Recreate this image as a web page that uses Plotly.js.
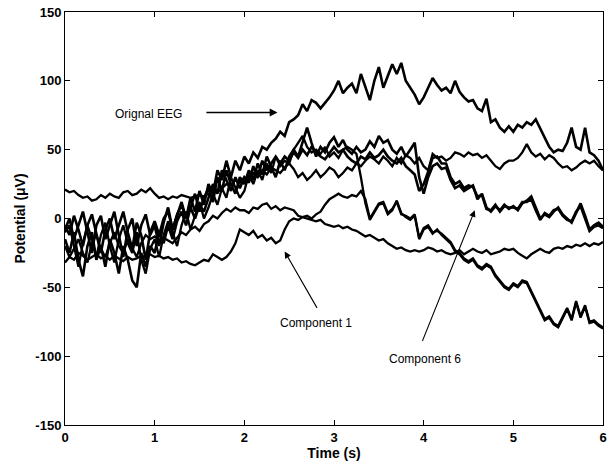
<!DOCTYPE html>
<html>
<head>
<meta charset="utf-8">
<script src="https://cdn.plot.ly/plotly-3.0.1.min.js"></script>
<style>html,body{margin:0;padding:0;background:#fff;}#chart{width:613px;height:466px;}</style>
</head>
<body>
<div id="chart"></div>
<script>
// sample times (s), 0.05 s apart
const step = 0.05;
const time = [];
for (let i = 0; i <= 120; i++) time.push(Math.round(i * step * 100) / 100);

const xTicks = [0, 1, 2, 3, 4, 5, 6];
const yTicks = [-150, -100, -50, 0, 50, 100, 150];

const originalEEG = [
  -5,-12,2,-8,-20,-5,3,-10,-25,-8,0,-15,-5,5,-10,-22,-3,-12,-30,-10,
  -2,-12,0,5,-8,3,10,0,15,5,20,10,25,18,35,28,42,30,42,35,
  45,40,48,44,52,50,55,58,63,60,70,72,75,83,78,86,84,80,84,88,
  93,100,91,95,98,91,105,95,86,100,110,95,104,112,105,113,100,95,90,83,
  88,95,102,97,93,95,91,100,92,88,85,86,80,78,87,70,72,66,63,67,
  63,68,66,70,68,72,65,58,52,48,50,49,55,66,52,50,66,48,46,42,35
];
const lineB = [
  21,19,20,17,15,16,13,14,17,15,18,16,15,19,20,17,18,21,19,22,
  18,15,16,14,16,15,17,16,15,16,17,16,18,20,19,22,25,24,28,26,
  30,28,33,30,35,32,37,35,33,37,40,36,30,33,28,31,35,30,33,37,
  35,30,33,37,35,40,38,42,45,43,40,45,42,38,44,40,46,44,40,44,
  38,35,47,44,45,42,44,48,47,45,48,46,47,44,46,42,38,36,40,42,
  42,44,48,54,48,45,47,43,46,44,40,37,38,35,37,40,42,40,42,38,35
];
const component6a = [
  -8,0,-15,-5,5,-10,-25,-5,2,-15,-5,5,-12,-28,-8,0,-20,-5,3,-12,
  -5,-20,-3,8,-8,2,12,0,8,18,5,15,22,12,30,20,35,25,18,30,
  25,35,28,40,32,45,38,30,42,35,45,50,45,55,66,55,45,52,48,55,
  59,52,57,50,47,52,48,50,56,52,60,55,57,50,47,52,45,50,55,30,
  18,30,38,40,36,37,28,22,24,20,22,24,14,18,8,5,9,6,10,7,
  9,6,11,13,16,8,0,3,1,5,8,3,0,-3,4,11,2,-8,-5,-3,-6
];
const component6b = [
  -15,-25,-10,-30,-42,-20,-10,-30,-20,-35,-15,-25,-40,-20,-30,-45,-50,-25,-35,-20,
  -25,-10,-18,-5,-15,-2,5,-5,8,0,10,5,15,25,18,35,28,20,30,22,
  30,26,38,30,42,35,40,45,40,45,42,48,44,50,46,52,48,45,43,48,
  52,48,50,45,42,40,45,43,48,44,46,50,45,42,40,44,38,35,32,20,
  25,34,44,45,40,40,30,25,27,22,24,23,16,17,7,6,10,5,9,8,
  8,7,12,12,14,6,-1,4,2,6,7,2,-1,-2,5,9,0,-9,-6,-5,-7
];
const lineE = [
  -10,-5,-20,-35,-18,-5,-15,-28,-12,-3,-20,-32,-15,-5,-18,-25,-10,-30,-40,-22,
  -15,-28,-12,-2,-10,-20,-5,5,-8,2,12,0,8,18,10,22,15,30,22,15,
  20,32,25,35,28,40,33,45,38,42,40,50,55,60,52,48,50,47,52,45,
  48,44,50,52,50,47,30,11,-1,5,10,11,3,6,13,4,1,-1,2,-15,
  -8,-6,-11,-8,-12,-15,-18,-24,-26,-30,-32,-30,-35,-37,-34,-36,-42,-46,-50,-52,
  -48,-50,-46,-47,-54,-60,-68,-74,-72,-77,-79,-72,-66,-74,-61,-72,-64,-76,-75,-78,-80
];
const lineD = [
  -20,-28,-22,-15,-25,-32,-18,-12,-22,-28,-18,-10,-20,-25,-15,-22,-28,-18,-12,-15,
  -13,-16,-14,-16,-18,-14,-10,-12,-8,-6,-9,-4,-2,2,0,4,7,5,8,6,
  6,4,8,7,10,11,7,9,6,8,7,6,2,1,0,-1,-2,-1,-4,-5,
  -6,-5,-7,-6,-8,-9,-11,-13,-12,-14,-16,-15,-18,-20,-22,-21,-23,-24,-23,-24,
  -23,-21,-22,-24,-23,-25,-26,-25,-23,-26,-24,-22,-24,-25,-23,-26,-25,-24,-22,-23,
  -22,-25,-27,-29,-26,-24,-22,-24,-25,-22,-21,-22,-20,-21,-19,-20,-18,-20,-18,-19,-17
];
const component1 = [
  -32,-28,-30,-25,-27,-30,-28,-26,-29,-27,-30,-27,-29,-31,-28,-30,-29,-27,-28,-26,
  -28,-27,-29,-28,-30,-29,-32,-31,-33,-34,-32,-30,-31,-26,-28,-30,-28,-24,-18,-8,
  -10,-12,-9,-14,-12,-16,-14,-18,-16,-8,-2,0,-1,1,2,0,3,5,10,14,
  16,18,16,15,17,16,20,14,0,6,11,12,4,7,12,3,2,0,3,-14,
  -7,-5,-10,-9,-11,-14,-17,-23,-25,-29,-31,-29,-34,-36,-33,-35,-41,-45,-49,-51,
  -47,-49,-45,-46,-53,-59,-67,-73,-71,-76,-78,-71,-65,-73,-60,-71,-63,-75,-74,-77,-79
];

const seriesNames = ['Orignal EEG', 'Signal B', 'Component 6', 'Component 6 (b)', 'Signal E', 'Signal D', 'Component 1'];
const seriesValues = [originalEEG, lineB, component6a, component6b, lineE, lineD, component1];
const seriesWidths = [2.6, 2.3, 2.6, 2.6, 2.3, 2.3, 2.3];

const traces = seriesValues.map((vals, k) => ({
  type: 'scatter', mode: 'lines', x: time, y: vals, name: seriesNames[k],
  line: {color: '#000', width: seriesWidths[k], shape: 'linear'},
  hoverinfo: 'skip'
}));

const fam = 'Arial, "Liberation Sans", sans-serif';

const layout = {
  width: 613, height: 466,
  margin: {l: 65, r: 10, t: 12, b: 41},
  paper_bgcolor: '#fff', plot_bgcolor: '#fff',
  showlegend: false,
  font: {family: fam, size: 12, color: '#000'},
  xaxis: {
    range: [0, 6], tickvals: xTicks, ticktext: xTicks.map(String),
    ticks: 'inside', ticklen: 5, tickcolor: '#000', tickwidth: 1,
    showline: true, linecolor: '#000', linewidth: 1, mirror: 'ticks',
    showgrid: false, zeroline: false,
    tickfont: {family: fam, size: 13, color: '#000', weight: 'bold'},
    title: {text: 'Time (s)', font: {family: fam, size: 14, color: '#000', weight: 'bold'}, standoff: 4}
  },
  yaxis: {
    range: [-150, 150], tickvals: yTicks, ticktext: yTicks.map(String),
    ticks: 'inside', ticklen: 5, tickcolor: '#000', tickwidth: 1,
    showline: true, linecolor: '#000', linewidth: 1, mirror: 'ticks',
    showgrid: false, zeroline: false,
    tickfont: {family: fam, size: 13, color: '#000', weight: 'bold'},
    title: {text: 'Potential (μV)', font: {family: fam, size: 14, color: '#000', weight: 'bold'}, standoff: 6}
  },
  annotations: [
    {x: 0.93, y: 76, xref: 'x', yref: 'y', text: 'Orignal EEG', showarrow: false, font: {family: fam, size: 12, color: '#000'}},
    {x: 2.37, y: 77, xref: 'x', yref: 'y', ax: 1.56, ay: 77, axref: 'x', ayref: 'y', text: '', showarrow: true, arrowhead: 2, arrowsize: 1.2, arrowwidth: 1.3, arrowcolor: '#000'},
    {x: 2.8, y: -76, xref: 'x', yref: 'y', text: 'Component 1', showarrow: false, font: {family: fam, size: 12, color: '#000'}},
    {x: 2.45, y: -24, xref: 'x', yref: 'y', ax: 2.82, ay: -66, axref: 'x', ayref: 'y', text: '', showarrow: true, arrowhead: 2, arrowsize: 1.2, arrowwidth: 1.1, arrowcolor: '#000'},
    {x: 4.01, y: -102, xref: 'x', yref: 'y', text: 'Component 6', showarrow: false, font: {family: fam, size: 12, color: '#000'}},
    {x: 4.57, y: 6, xref: 'x', yref: 'y', ax: 3.98, ay: -90, axref: 'x', ayref: 'y', text: '', showarrow: true, arrowhead: 2, arrowsize: 1.2, arrowwidth: 1.1, arrowcolor: '#000'}
  ]
};

Plotly.newPlot('chart', traces, layout, {displayModeBar: false, staticPlot: true});
</script>
</body>
</html>
